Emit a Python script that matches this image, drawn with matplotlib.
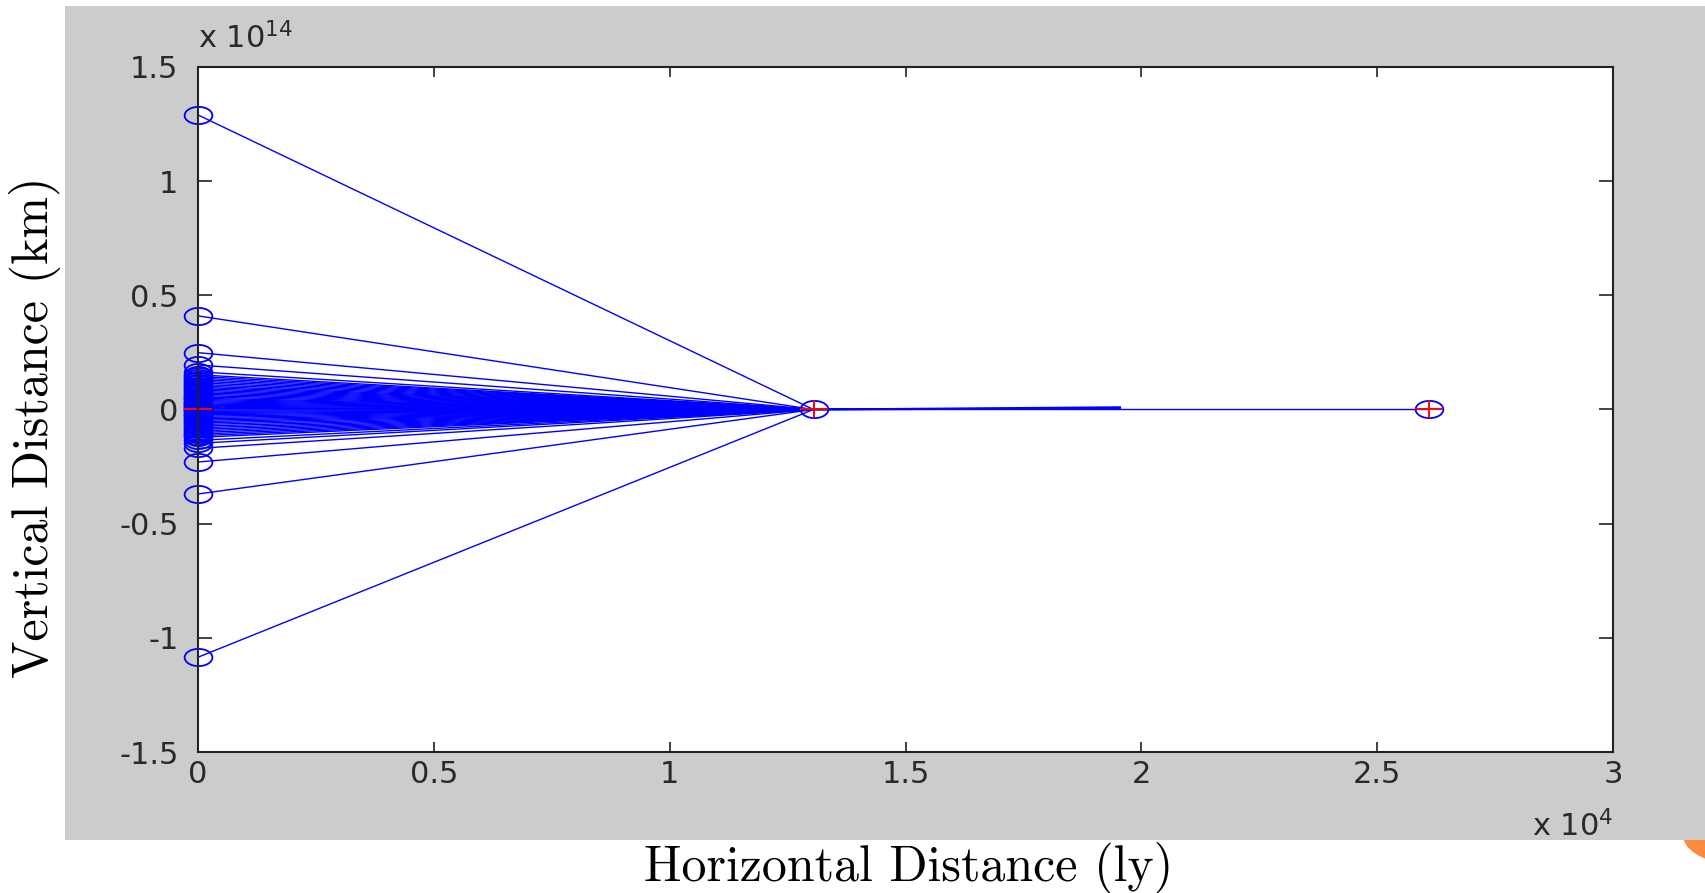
import numpy as np
import matplotlib.pyplot as plt
from matplotlib.path import Path
from matplotlib.patches import Rectangle, Circle

# start points on x = 0, vertical distance in units of 1e14 km
y_start = [1.29, 0.41, 0.249, 0.195, 0.165,
           0.152, 0.145, 0.138, 0.131, 0.124, 0.117, 0.110, 0.103, 0.097, 0.091,
           0.085, 0.079, 0.073, 0.067, 0.061, 0.055, 0.049, 0.044, 0.039, 0.034,
           0.029, 0.024, 0.019, 0.014, 0.009, 0.005, 0.002, -0.003, -0.008, -0.013,
           -0.018, -0.023, -0.029, -0.035, -0.041, -0.047, -0.053, -0.059, -0.066,
           -0.073, -0.080, -0.087, -0.094, -0.101, -0.108, -0.115, -0.122, -0.135,
           -0.148, -0.17, -0.23, -0.37, -1.085]
x_lens = 1.305   # 1e4 ly
x_far = 2.61
# short bundle leaving the lens
x_bundle = 1.955
y_bundle = [0.0, 0.005, 0.010]

xticks = [0, 0.5, 1, 1.5, 2, 2.5, 3]
xticklabels = ['0', '0.5', '1', '1.5', '2', '2.5', '3']
yticks = [-1.5, -1, -0.5, 0, 0.5, 1, 1.5]
yticklabels = ['-1.5', '-1', '-0.5', '0', '0.5', '1', '1.5']

blue = (0, 0, 1)
red = (1, 0, 0)
# MATLAB circles come out squashed in the screenshot
t = np.linspace(0, 2 * np.pi, 40)
ellipse = Path(np.column_stack([np.cos(t), 0.62 * np.sin(t)]), closed=True)
plus = Path([(-1, 0), (1, 0), (0, -0.65), (0, 0.65)],
            [Path.MOVETO, Path.LINETO, Path.MOVETO, Path.LINETO])

fig = plt.figure(figsize=(17.05, 8.93), dpi=100)
fig.patch.set_facecolor('white')
fig.patches.append(Circle((1740 / 1705, 1 - 835 / 893), 57 / 1705, transform=fig.transFigure,
                          facecolor='#ff8a3d', edgecolor='none', zorder=-2))
fig.patches.append(Rectangle((65 / 1705, 1 - 840 / 893), 1, 834 / 893, transform=fig.transFigure,
                             facecolor='#cccccc', edgecolor='none', zorder=-1))

ax = fig.add_axes([198 / 1705, 1 - 752 / 893, 1415 / 1705, 685 / 893])
ax.set_facecolor('white')
ax.set_zorder(2)

for y in y_start:
    ax.plot([0, x_lens], [y, 0], color=blue, lw=1.0, zorder=2)
for y in y_bundle:
    ax.plot([x_lens, x_bundle], [0, y], color=blue, lw=1.4, zorder=2)
ax.plot([x_lens, x_far], [0, 0], color=blue, lw=1.0, zorder=2)

ax.plot(np.zeros(len(y_start)), y_start, ls='none', marker=ellipse, ms=20,
        mfc='none', mec=blue, mew=1.3, zorder=3, clip_on=False)
ax.plot([x_lens, x_far], [0, 0], ls='none', marker=ellipse, ms=20,
        mfc='none', mec=blue, mew=1.3, zorder=3, clip_on=False)
ax.plot([0, x_lens, x_far], [0, 0, 0], ls='none', marker=plus, ms=20,
        mfc='none', mec=red, mew=1.4, zorder=4, clip_on=False)

ax.set_xlim(0, 3)
ax.set_ylim(-1.5, 1.5)
ax.set_xticks(xticks)
ax.set_xticklabels(xticklabels)
ax.set_yticks(yticks)
ax.set_yticklabels(yticklabels)
for s in ax.spines.values():
    s.set_linewidth(1.5)
    s.set_color('#222222')
    s.set_zorder(5)
ax.tick_params(axis='both', direction='in', top=True, right=True, width=1.2,
               colors='#222222', labelsize=22, labelcolor='#2a2a2a')
ax.tick_params(axis='x', length=7.5, pad=6)
ax.tick_params(axis='y', length=10, pad=14)

ax.text(0, 1.018, r'x 10$^{14}$', transform=ax.transAxes, fontsize=22,
        color='#2a2a2a', ha='left', va='bottom')
ax.text(1, -0.085, r'x 10$^{4}$', transform=ax.transAxes, fontsize=22,
        color='#2a2a2a', ha='right', va='top')

fig.text(35 / 1705, 1 - 427 / 893, 'Vertical Distance (km)', family='cmr10',
         fontsize=36, rotation=90, ha='center', va='center')
fig.text(909 / 1705, 1 - 868 / 893, 'Horizontal Distance (ly)', family='cmr10',
         fontsize=36, ha='center', va='center')

fig.savefig('out.png', dpi=100, facecolor=fig.get_facecolor())
